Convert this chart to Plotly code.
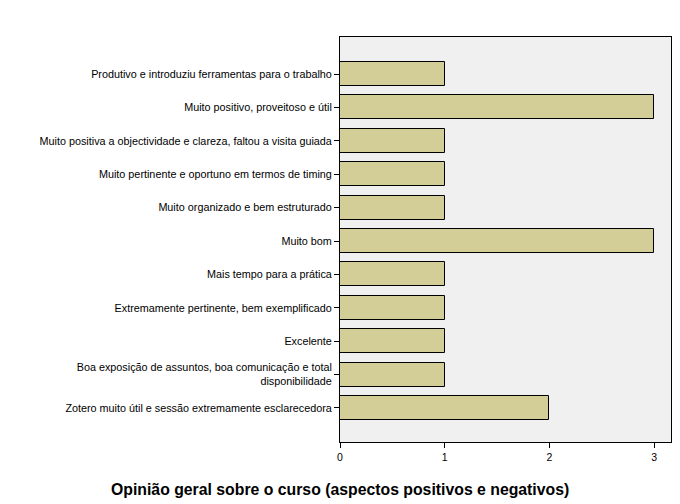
import plotly.graph_objects as go

categories = [
    "Produtivo e introduziu ferramentas para o trabalho",
    "Muito positivo, proveitoso e útil",
    "Muito positiva a objectividade e clareza, faltou a visita guiada",
    "Muito pertinente e oportuno em termos de timing",
    "Muito organizado e bem estruturado",
    "Muito bom",
    "Mais tempo para a prática",
    "Extremamente pertinente, bem exemplificado",
    "Excelente",
    "Boa exposição de assuntos, boa comunicação e total<br>disponibilidade",
    "Zotero muito útil e sessão extremamente esclarecedora",
]
counts = [1, 3, 1, 1, 1, 3, 1, 1, 1, 1, 2]
x_ticks = [0, 1, 2, 3]
title_text = "Opinião geral sobre o curso (aspectos positivos e negativos)"

positions = list(range(len(categories)))

fig = go.Figure(go.Bar(
    x=counts,
    y=positions,
    orientation="h",
    width=0.72,
    marker=dict(color="#D3CE97", line=dict(color="#000000", width=1)),
    hoverinfo="x+y",
))

fig.update_layout(
    width=680, height=504,
    margin=dict(l=340, r=9, t=37, b=62),
    paper_bgcolor="white",
    plot_bgcolor="#F0F0F0",
    font=dict(family="Liberation Sans, Arial, sans-serif", size=10.8, color="black"),
    showlegend=False,
    bargap=0,
    annotations=[dict(
        text="<b>" + title_text + "</b>",
        xref="paper", yref="paper",
        x=0, y=0, xanchor="center", yanchor="middle",
        yshift=-47,
        showarrow=False,
        font=dict(size=15.8, family="Liberation Sans, Arial, sans-serif"),
    )],
)
fig.update_xaxes(
    range=[0, 3.16],
    tickvals=x_ticks,
    ticktext=[str(v) for v in x_ticks],
    ticks="outside", ticklen=5, tickcolor="black",
    showgrid=False, zeroline=False,
    showline=True, linecolor="black", linewidth=1, mirror=True,
    tickfont=dict(size=10.5),
)
fig.update_yaxes(
    range=[len(categories) - 1 + 1.02, -1.11],
    tickvals=positions,
    ticktext=categories,
    ticks="outside", ticklen=5, tickcolor="black",
    showgrid=False, zeroline=False,
    showline=True, linecolor="black", linewidth=1, mirror=True,
    tickfont=dict(size=10.8),
)

fig.write_html("out.html")
